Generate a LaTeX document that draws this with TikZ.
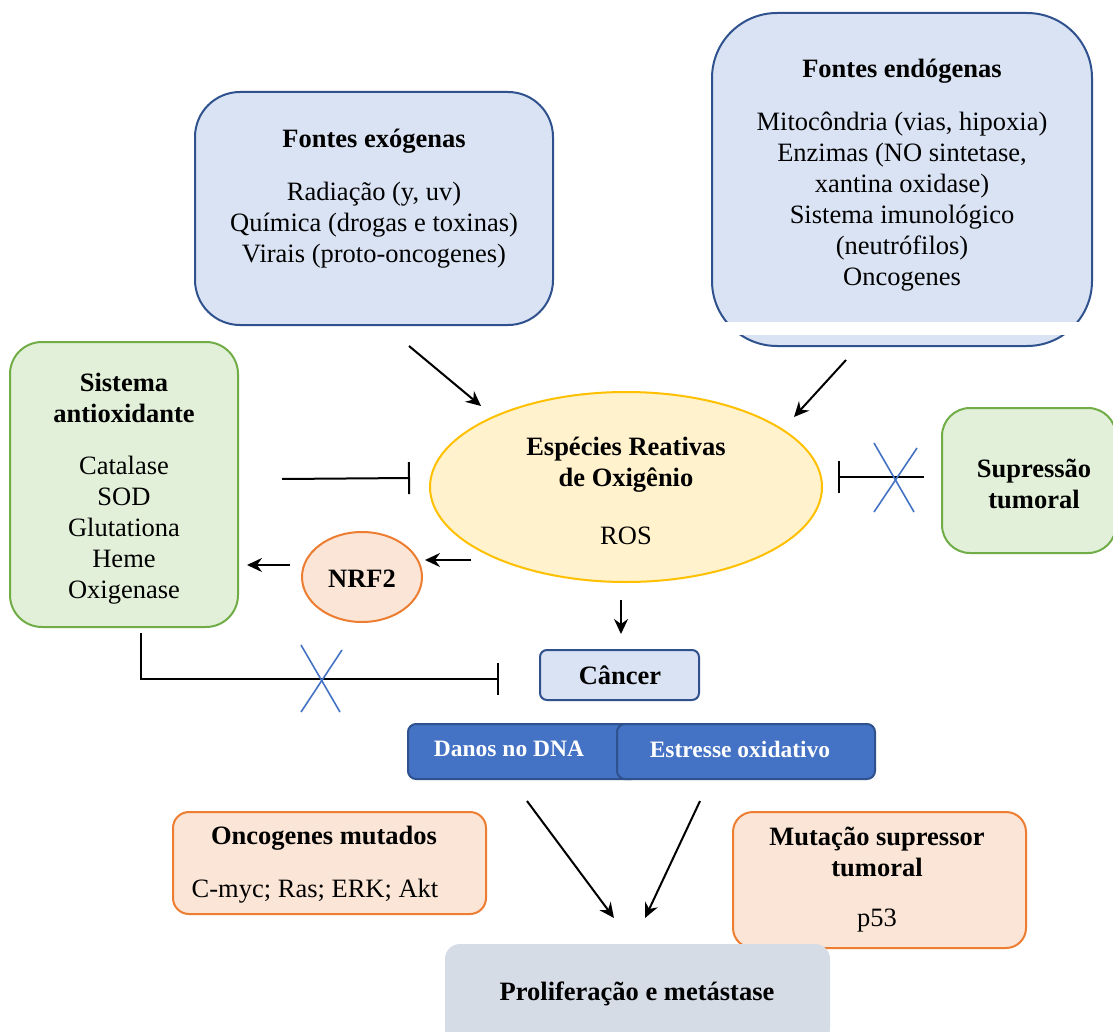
\documentclass[tikz,border=0pt]{standalone}
\usepackage{fontspec}
\setmainfont{Liberation Serif}
\usetikzlibrary{arrows.meta,shapes.geometric}
\definecolor{bfill}{HTML}{DAE3F3}
\definecolor{bdraw}{HTML}{2F528F}
\definecolor{gfill}{HTML}{E2F0D9}
\definecolor{gdraw}{HTML}{70AD47}
\definecolor{ofill}{HTML}{FBE5D6}
\definecolor{odraw}{HTML}{ED7D31}
\definecolor{yfill}{HTML}{FFF2CC}
\definecolor{ydraw}{HTML}{FFC000}
\definecolor{dblue}{HTML}{4472C4}
\definecolor{gray1}{HTML}{D6DCE5}
\tikzset{
  box/.style={rectangle, inner sep=0pt, line width=2pt},
  bluebox/.style={box, draw=bdraw, fill=bfill},
  greenbox/.style={box, draw=gdraw, fill=gfill},
  orangebox/.style={box, draw=odraw, fill=ofill},
  darkbox/.style={box, draw=bdraw, fill=dblue, rounded corners=8pt},
  txt/.style={align=center, inner sep=0pt, font=\fontsize{26.5}{31}\selectfont},
  btxt/.style={txt, font=\fontsize{26.5}{31}\selectfont\bfseries},
  wtxt/.style={align=center, inner sep=0pt, text=white, font=\fontsize{23.5}{28}\selectfont\bfseries},
  arr/.style={line width=2pt, -{Stealth[length=15pt,width=14pt,inset=5pt]}},
  inh/.style={line width=2pt, -{Bar[width=32pt,line width=2pt]}},
  cross/.style={draw=dblue, line width=1.6pt},
}
\begin{document}
\begin{tikzpicture}[x=1pt,y=-1pt]
\useasboundingbox (0,0) rectangle (1113,1032);
\clip (0,0) rectangle (1113,1032);
\fill[white] (0,0) rectangle (1113,1032);

% boxes
\node[bluebox, rounded corners=45pt, minimum width=358pt, minimum height=233pt] (exo) at (374,208.5) {};
\node[bluebox, rounded corners=65pt, minimum width=380pt, minimum height=333pt] (endo) at (902,179.5) {};
\fill[white] (724,322) rectangle (1080,335);
\node[greenbox, rounded corners=32pt, minimum width=228pt, minimum height=285pt] (anti) at (124,484.5) {};
\node[ellipse, inner sep=0pt, line width=2pt, draw=ydraw, fill=yfill, minimum width=392pt, minimum height=190pt] (ros) at (626,487) {};
\node[greenbox, rounded corners=28pt, minimum width=174pt, minimum height=145pt] (sup) at (1029,480.5) {};
\node[ellipse, inner sep=0pt, line width=2pt, draw=odraw, fill=ofill, minimum width=120pt, minimum height=90pt] (nrf) at (362,577) {};
\node[bluebox, rounded corners=7pt, minimum width=159pt, minimum height=50pt] (can) at (619.5,675) {};
\node[darkbox, minimum width=232pt, minimum height=55pt] (dna) at (524,751.5) {};
\node[darkbox, minimum width=258pt, minimum height=55pt] (est) at (746,751.5) {};
\node[orangebox, rounded corners=16pt, minimum width=313pt, minimum height=102pt] (onc) at (329.5,863) {};
\node[orangebox, rounded corners=20pt, minimum width=293pt, minimum height=136pt] (mut) at (879.5,880) {};
\node[box, fill=gray1, rounded corners=15pt, minimum width=385pt, minimum height=100pt] (pro) at (637.5,994) {};

% texts
\node[btxt] (exoT) at (374,141) {Fontes exógenas};
\node[txt] (exoB) at (374,225) {Radiação (y, uv)\\Química (drogas e toxinas)\\Virais (proto-oncogenes)};
\node[btxt] (endoT) at (902,71) {Fontes endógenas};
\node[txt] (endoB) at (902,202) {Mitocôndria (vias, hipoxia)\\Enzimas (NO sintetase,\\xantina oxidase)\\Sistema imunológico\\(neutrófilos)\\Oncogenes};
\node[btxt] (antiT) at (124,398) {Sistema\\antioxidante};
\node[txt] (antiB) at (124,530) {Catalase\\SOD\\Glutationa\\Heme\\Oxigenase};
\node[btxt] (rosT) at (626,465) {Espécies Reativas\\de Oxigênio};
\node[txt] (rosB) at (626,536) {ROS};
\node[btxt] (supT) at (1034,484) {Supressão\\tumoral};
\node[btxt] (nrfT) at (362,579) {NRF2};
\node[btxt] (canT) at (620,675) {Câncer};
\node[wtxt] (dnaT) at (509,749) {Danos no DNA};
\node[wtxt] (estT) at (740,749) {Estresse oxidativo};
\node[btxt] (oncT) at (324,838) {Oncogenes mutados};
\node[txt] (oncB) at (315,891) {C-myc; Ras; ERK; Akt};
\node[btxt] (mutT) at (877,852) {Mutação supressor\\tumoral};
\node[txt] (mutB) at (877,921) {p53};
\node[btxt] (proT) at (637,994) {Proliferação e metástase};

% connector end points
\coordinate (a1s) at (409,346); \coordinate (a1e) at (481,406);
\coordinate (a2s) at (846,360); \coordinate (a2e) at (794,417);
\coordinate (i1s) at (282,479); \coordinate (i1e) at (410,478);
\coordinate (i2s) at (924,477); \coordinate (i2e) at (838,477);
\coordinate (a3s) at (471,560); \coordinate (a3e) at (425,560);
\coordinate (a4s) at (290,565); \coordinate (a4e) at (247,565);
\coordinate (a5s) at (621,600); \coordinate (a5e) at (621,634);
\coordinate (i3s) at (141,633); \coordinate (i3c) at (141,679); \coordinate (i3e) at (499,679);
\coordinate (a6s) at (527,801); \coordinate (a6e) at (614,918);
\coordinate (a7s) at (700,801); \coordinate (a7e) at (645,918);

\draw[arr] (a1s) -- (a1e);
\draw[arr] (a2s) -- (a2e);
\draw[inh] (i1s) -- (i1e);
\draw[inh] (i2s) -- (i2e);
\draw[arr] (a3s) -- (a3e);
\draw[arr] (a4s) -- (a4e);
\draw[arr] (a5s) -- (a5e);
\draw[inh] (i3s) -- (i3c) -- (i3e);
\draw[arr] (a6s) -- (a6e);
\draw[arr] (a7s) -- (a7e);

% crosses
\coordinate (x1a) at (874,443); \coordinate (x1b) at (914,512);
\coordinate (x1c) at (917,448); \coordinate (x1d) at (874,512);
\draw[cross] (x1a) -- (x1b);
\draw[cross] (x1c) -- (x1d);
\coordinate (x2a) at (301,645); \coordinate (x2b) at (340,712);
\coordinate (x2c) at (342,650); \coordinate (x2d) at (301,712);
\draw[cross] (x2a) -- (x2b);
\draw[cross] (x2c) -- (x2d);
\end{tikzpicture}
\end{document}
